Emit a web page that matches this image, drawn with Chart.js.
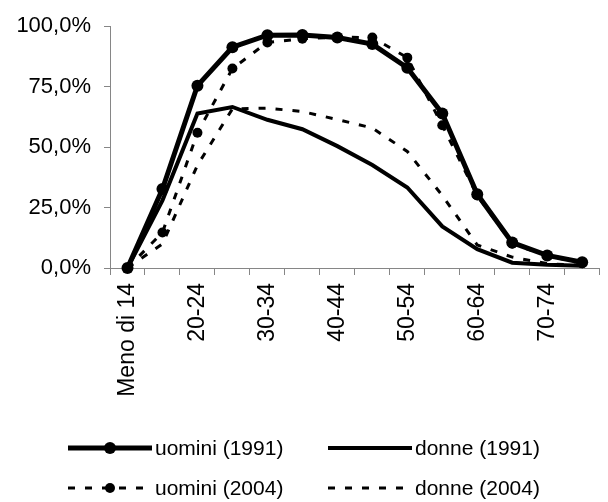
<!DOCTYPE html>
<html>
<head>
<meta charset="utf-8">
<script src="https://cdn.jsdelivr.net/npm/chart.js@4.4.1/dist/chart.umd.min.js"></script>
<style>
  html, body { margin: 0; padding: 0; background: #fff; overflow: hidden; }
  #wrap { width: 618px; height: 502px; position: relative; }
</style>
</head>
<body>
<div id="wrap"><canvas id="chart"></canvas></div>
<script>
// age groups (only every other label is printed)
const categories = ['Meno di 14', '15-19', '20-24', '25-29', '30-34', '35-39', '40-44',
  '45-49', '50-54', '55-59', '60-64', '65-69', '70-74', '75 e oltre'];
const uomini1991 = [0, 32.7, 75.4, 91.3, 96.3, 96.4, 95.3, 92.6, 82.8, 63.9, 30.5, 10.5, 5.2, 2.4];
const donne1991  = [0, 28.0, 63.9, 66.6, 61.3, 57.4, 50.4, 42.6, 33.3, 17.2, 7.8, 2.2, 1.3, 0.9];
const uomini2004 = [0, 14.7, 55.9, 82.5, 93.3, 94.8, 95.5, 95.3, 87.0, 59.0, 30.0, 10.0, 5.0, 2.0];
const donne2004  = [0, 10.0, 42.5, 65.8, 66.1, 64.7, 61.4, 57.9, 48.2, 30.0, 9.5, 4.5, 1.8, 1.0];
const yTicks = [0, 25, 50, 75, 100];

const FONT = "'Liberation Sans', Arial, sans-serif";
const AXIS = '#868686';

function fmtPct(v){ return v.toFixed(1).replace('.', ',') + '%'; }

// legend drawn in two columns under the axis labels
const gridLegend = {
  id: 'gridLegend',
  afterDraw(chart){
    const ctx = chart.ctx;
    const slots = [[68, 448], [328, 448], [68, 488], [328, 488]];
    const w = 84;
    chart.data.datasets.forEach((ds, i) => {
      const [x, y] = slots[i];
      ctx.save();
      ctx.strokeStyle = ds.borderColor;
      ctx.lineWidth = ds.borderWidth;
      ctx.setLineDash(ds.borderDash || []);
      ctx.beginPath(); ctx.moveTo(x, y); ctx.lineTo(x + w, y); ctx.stroke();
      if (ds.pointRadius > 0) {
        ctx.setLineDash([]);
        ctx.fillStyle = ds.pointBackgroundColor;
        ctx.beginPath(); ctx.arc(x + w / 2, y, ds.pointRadius, 0, Math.PI * 2); ctx.fill();
      }
      ctx.fillStyle = '#000';
      ctx.font = '21px ' + FONT;
      ctx.textBaseline = 'middle';
      ctx.fillText(ds.label, x + w + 3, y + 1);
      ctx.restore();
    });
  }
};

const datasets = [
  { label: 'uomini (1991)', data: uomini1991, borderColor: '#000', borderWidth: 5,
    pointRadius: 6, pointBackgroundColor: '#000', pointBorderWidth: 0 },
  { label: 'donne (1991)', data: donne1991, borderColor: '#000', borderWidth: 4,
    pointRadius: 0 },
  { label: 'uomini (2004)', data: uomini2004, borderColor: '#000', borderWidth: 3,
    borderDash: [7, 10], pointRadius: 5, pointBackgroundColor: '#000', pointBorderWidth: 0 },
  { label: 'donne (2004)', data: donne2004, borderColor: '#000', borderWidth: 3,
    borderDash: [7, 10], pointRadius: 0 }
].map(d => Object.assign({ tension: 0, fill: false, clip: false, pointHoverRadius: 0 }, d));

new Chart(document.getElementById('chart'), {
  type: 'line',
  data: { labels: categories, datasets },
  options: {
    responsive: true, maintainAspectRatio: false, animation: false,
    layout: { padding: { left: 0, right: 0, top: 20, bottom: 0 } },
    plugins: { legend: { display: false }, tooltip: { enabled: false } },
    scales: {
      x: {
        offset: true,
        grid: { offset: true, drawOnChartArea: false, drawTicks: true, tickLength: 7, color: AXIS },
        border: { color: AXIS, width: 1 },
        ticks: {
          autoSkip: false, minRotation: 90, maxRotation: 90, padding: 8, color: '#000',
          font: { family: FONT, size: 23 },
          callback: (v, i) => (i % 2 === 0 ? categories[i] : '')
        },
        afterFit: s => { s.height = 234; }
      },
      y: {
        min: 0, max: 100,
        afterBuildTicks: s => { s.ticks = yTicks.map(v => ({ value: v })); },
        grid: { drawOnChartArea: false, drawTicks: true, tickLength: 6, color: AXIS },
        border: { color: AXIS, width: 1 },
        ticks: { padding: 13, color: '#000', font: { family: FONT, size: 22 }, callback: v => fmtPct(v) },
        afterFit: s => { s.width = 110; }
      }
    }
  },
  plugins: [gridLegend]
});
</script>
</body>
</html>
